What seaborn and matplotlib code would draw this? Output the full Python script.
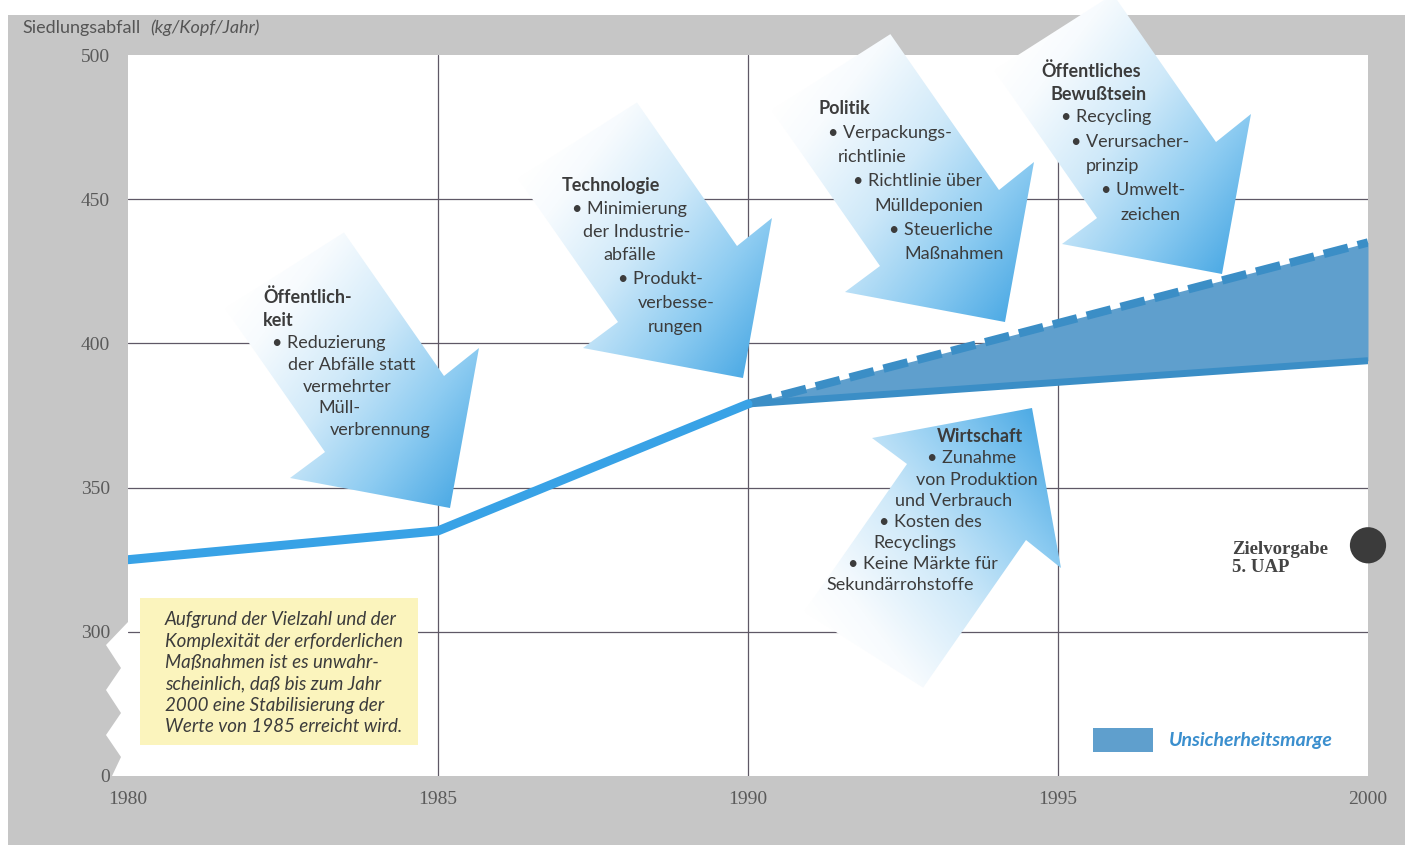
import numpy as np
import matplotlib
matplotlib.use("Agg")
import matplotlib.pyplot as plt
from matplotlib.patches import Polygon, Rectangle, Patch
from matplotlib.colors import LinearSegmentedColormap
import seaborn as sns

# ---------------- data ----------------
years = [1980, 1985, 1990]
waste = [325, 335, 379]
proj_years = [1990, 2000]
proj_low = [379, 394]
proj_high = [379, 435]
target_year = [2000]
target_value = [330]

x_ticks = [1980, 1985, 1990, 1995, 2000]
y_ticks = [250, 300, 350, 400, 450, 500]   # 250 stands for the broken axis "0"
y_ticklabels = ["0", "300", "350", "400", "450", "500"]

# ---------------- layout (pixels) ----------------
W, H = 1415, 851
AX_L, AX_R, AX_T, AX_B = 128, 1368, 55, 776

sns.set_theme(style="white")
SANS = ["Lato", "DejaVu Sans"]
SERIF = ["Liberation Serif", "DejaVu Serif"]
plt.rcParams["font.family"] = SANS

TXT = "#3c3c3c"
LINE_BLUE = "#38a2e6"
BAND = "#5f9fcd"
BAND_EDGE = "#3b8ec6"
GRID = "#5f5866"

fig = plt.figure(figsize=(W / 100, H / 100), dpi=100)
fig.patch.set_facecolor("white")
# gray page background
fig.patches.append(Rectangle((8 / W, 1 - 845 / H), (1405 - 8) / W, (845 - 15) / H,
                             transform=fig.transFigure, fc="#c6c6c6", ec="none", zorder=0))

rect = [AX_L / W, 1 - AX_B / H, (AX_R - AX_L) / W, (AX_B - AX_T) / H]

# grid layer
gr = fig.add_axes(rect, zorder=1)
gr.set_facecolor("white")
gr.set_xlim(1980, 2000)
gr.set_ylim(250, 500)
gr.set_xticks([1985, 1990, 1995])
gr.set_yticks([300, 350, 400, 450])
gr.grid(True, color=GRID, lw=0.9)
gr.tick_params(length=0, labelbottom=False, labelleft=False)
for s in gr.spines.values():
    s.set_visible(False)

# overlay layer in pixel coordinates for the arrows and notes
ov = fig.add_axes([0, 0, 1, 1], zorder=2)
ov.patch.set_alpha(0)
ov.axis("off")

cmap = LinearSegmentedColormap.from_list(
    "arr", [(0, "#ffffff"), (0.15, "#f7fbfe"), (0.45, "#cfe9f9"),
            (0.75, "#8ccbf1"), (1, "#4fabe5")])

DOWN = [(-160, -30), (-125, -56), (-6, -132), (29, -160)]
UP = [(x, -y) for x, y in DOWN]
arrows = [
    ((450, 508), DOWN, 175),
    ((743, 378), DOWN, 175),
    ((1005, 322), DOWN, 190),
    ((1222, 274), DOWN, 180),
    ((1032, 408), UP, 180),
]


def draw_arrow(tip, shape, length):
    tip = np.array(tip, float)
    hl, nl, nr, hr = [tip + np.array(p, float) for p in shape]
    mid = (nl + nr) / 2
    d = (tip - mid) / np.linalg.norm(tip - mid)
    tl = nl - d * length
    tr = nr - d * length
    pts = np.array([tl, nl, hl, tip, hr, nr, tr])
    poly = Polygon(pts, closed=True, fc="none", ec="none")
    ov.add_patch(poly)
    g = d + np.array([0.5, 0.0])
    g = g / np.linalg.norm(g)
    proj = pts @ g
    x0, y0 = np.floor(pts.min(0))
    x1, y1 = np.ceil(pts.max(0))
    X, Y = np.meshgrid(np.arange(x0, x1 + 1), np.arange(y0, y1 + 1))
    t = (X * g[0] + Y * g[1] - proj.min()) / (proj.max() - proj.min())
    img = cmap(np.clip(t, 0, 1))
    im = ov.imshow(img, extent=(x0, x1, y1, y0), origin="upper", aspect="auto",
                   interpolation="bilinear", zorder=1)
    im.set_clip_path(poly)


for tip, shape, length in arrows:
    draw_arrow(tip, shape, length)

# arrow texts: (x, y, text, bold)
arrow_texts = [
    (263, 297, "Öffentlich-", True), (263, 320, "keit", True),
    (272, 343, "• Reduzierung", False), (288, 365, "der Abfälle statt", False),
    (303, 387, "vermehrter", False), (318, 408, "Müll-", False), (330, 430, "verbrennung", False),

    (562, 185, "Technologie", True), (572, 209, "• Minimierung", False),
    (583, 232, "der Industrie-", False), (603, 255, "abfälle", False),
    (618, 279, "• Produkt-", False), (638, 303, "verbesse-", False), (648, 327, "rungen", False),

    (818, 109, "Politik", True), (828, 133, "• Verpackungs-", False),
    (838, 157, "richtlinie", False), (853, 181, "• Richtlinie über", False),
    (874, 206, "Mülldeponien", False), (889, 230, "• Steuerliche", False), (904, 254, "Maßnahmen", False),

    (1041, 71, "Öffentliches", True), (1051, 94, "Bewußtsein", True),
    (1061, 117, "• Recycling", False), (1071, 142, "• Verursacher-", False),
    (1086, 166, "prinzip", False), (1101, 190, "• Umwelt-", False), (1121, 215, "zeichen", False),

    (937, 437, "Wirtschaft", True), (927, 458, "• Zunahme", False),
    (916, 480, "von Produktion", False), (895, 501, "und Verbrauch", False),
    (879, 522, "• Kosten des", False), (873, 543, "Recyclings", False),
    (848, 564, "• Keine Märkte für", False), (826, 585, "Sekundärrohstoffe", False),
]
for x, y, s, b in arrow_texts:
    ov.text(x, y, s, ha="left", va="center", fontsize=13, color=TXT,
            fontweight="bold" if b else "normal", zorder=3)

# yellow note box
ov.add_patch(Rectangle((140, 598), 278, 147, fc="#fbf4bd", ec="none", zorder=1))
note_lines = ["Aufgrund der Vielzahl und der", "Komplexität der erforderlichen",
              "Maßnahmen ist es unwahr-", "scheinlich, daß bis zum Jahr",
              "2000 eine Stabilisierung der", "Werte von 1985 erreicht wird."]
for i, s in enumerate(note_lines):
    ov.text(165, 620 + i * 21.3, s, ha="left", va="center", fontsize=13.5,
            style="italic", color=TXT, zorder=3)

# broken axis zigzag on the left edge
zig = [(AX_L, 622), (106, 645), (121, 668), (106, 690), (121, 713), (106, 735),
       (121, 757), (112, AX_B), (AX_L, AX_B)]
ov.add_patch(Polygon(zig, closed=True, fc="white", ec="none", zorder=1))

# axis title
ov.text(22, 28, "Siedlungsabfall", ha="left", va="center", fontsize=13, color="#555555")
ov.text(150, 28, "(kg/Kopf/Jahr)", ha="left", va="center", fontsize=13,
        style="italic", color="#555555")

# target label
ov.text(1232, 549, "Zielvorgabe", ha="left", va="center", fontsize=13.5,
        fontweight="bold", family=SERIF, color="#444444")
ov.text(1232, 568, "5. UAP", ha="left", va="center", fontsize=13.5,
        fontweight="bold", family=SERIF, color="#444444")

ov.set_xlim(0, W)
ov.set_ylim(H, 0)

# ---------------- data layer ----------------
ax = fig.add_axes(rect, zorder=3)
ax.patch.set_alpha(0)

ax.fill_between(proj_years, proj_low, proj_high, color=BAND, lw=0, zorder=2)
ax.plot(proj_years, proj_low, color=BAND_EDGE, lw=5, solid_capstyle="butt", zorder=3)
ax.plot(proj_years, proj_high, color=BAND_EDGE, lw=6, linestyle=(0, (3, 1.2)),
        dash_capstyle="butt", zorder=3)
sns.lineplot(x=years, y=waste, ax=ax, color=LINE_BLUE, linewidth=6.5, zorder=4)
sns.scatterplot(x=target_year, y=target_value, ax=ax, s=680, color="#3b3b3b",
                edgecolor="none", clip_on=False, zorder=5)

ax.set_xlim(1980, 2000)
ax.set_ylim(250, 500)
ax.set_xticks(x_ticks)
ax.set_yticks(y_ticks, y_ticklabels)
ax.tick_params(length=0, labelsize=14, labelcolor="#5a5a5a")
ax.tick_params(axis="y", pad=13)
ax.tick_params(axis="x", pad=11)
for lab in ax.get_xticklabels() + ax.get_yticklabels():
    lab.set_family(SERIF)
ax.set_xlabel("")
ax.set_ylabel("")
for s in ax.spines.values():
    s.set_visible(False)

leg = ax.legend(handles=[Patch(facecolor=BAND, edgecolor="none", label="Unsicherheitsmarge")],
                loc="center left", bbox_to_anchor=(0.778, 0.05), frameon=False,
                handlelength=3.1, handleheight=1.55, handletextpad=0.8, borderpad=0,
                borderaxespad=0,
                prop={"family": SANS, "style": "italic", "weight": "bold", "size": 14},
                labelcolor="#3b8fce")

fig.savefig("out.png", dpi=100)
